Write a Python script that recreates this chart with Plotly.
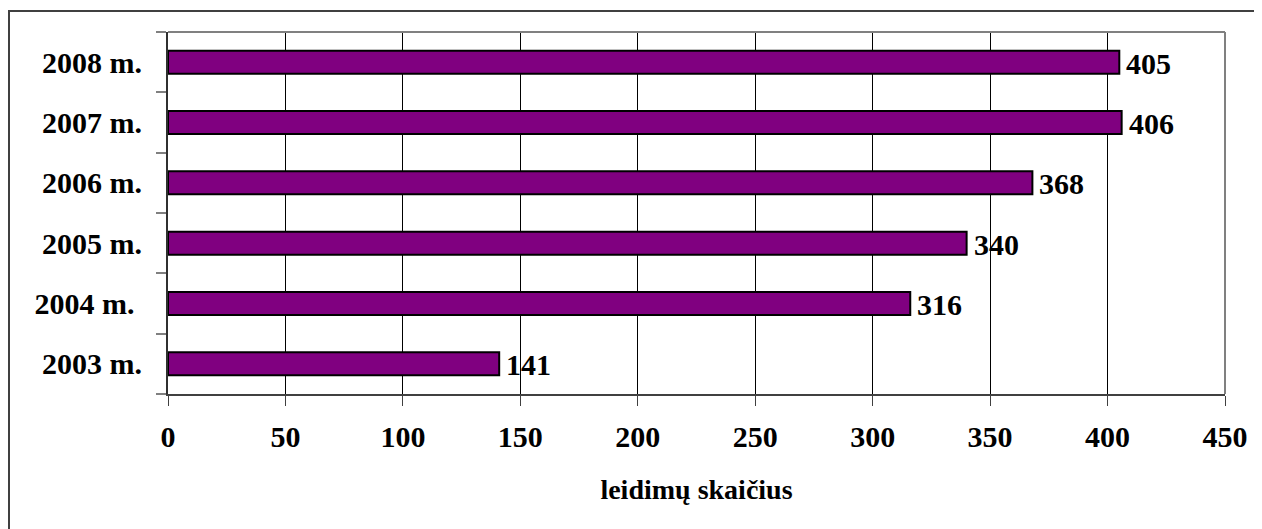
import plotly.graph_objects as go

categories = ["2003 m.", "2004 m.\u00a0", "2005 m.", "2006 m.", "2007 m.", "2008 m."]
values = [141, 316, 340, 368, 406, 405]
x_ticks = [0, 50, 100, 150, 200, 250, 300, 350, 400, 450]
x_title = "leidimų skaičius"

# page body has an 8px margin; the figure is sized to fit the window
OFF = 8
W, H = 1262 - OFF, 529 - OFF
L, R, T, B = 168 - OFF, 1225 - OFF, 32 - OFF, 394 - OFF
pw, ph = R - L, B - T

def px_x(x):
    return (x - OFF - L) / pw

def px_y(y):
    return (B - (y - OFF)) / ph

font_family = "Liberation Serif, Times New Roman, serif"
label_font = dict(family=font_family, size=30, color="#000000", weight="bold")

fig = go.Figure()
fig.add_trace(go.Bar(
    x=values, y=categories, orientation="h",
    marker=dict(color="#800080", line=dict(color="#000000", width=2)),
    width=0.38,
    cliponaxis=False,
    hoverinfo="skip",
))

annotations = [
    dict(x=v, y=c, xref="x", yref="y", text=str(v), showarrow=False,
         xanchor="left", yanchor="middle", xshift=5, yshift=-1, font=label_font)
    for v, c in zip(values, categories)
]

fig.update_layout(
    width=W, height=H,
    margin=dict(l=L, r=W - R, t=T, b=H - B, autoexpand=False),
    paper_bgcolor="white", plot_bgcolor="white",
    showlegend=False,
    font=dict(family=font_family, color="#000000"),
    annotations=annotations,
    xaxis=dict(
        range=[0, 450], tickvals=x_ticks, ticktext=[str(t) for t in x_ticks],
        automargin=False,
        showgrid=True, gridcolor="#000000", gridwidth=1,
        showline=True, linecolor="#404040", linewidth=2,
        ticks="outside", ticklen=10, tickcolor="#404040", tickwidth=1,
        tickfont=label_font,
        ticklabelstandoff=5,
        zeroline=False,
        title=dict(text=x_title, font=dict(family=font_family, size=28, color="#000000", weight="bold"), standoff=27),
    ),
    yaxis=dict(
        categoryorder="array", categoryarray=categories,
        automargin=False,
        showgrid=False, showline=True, linecolor="#303030", linewidth=2,
        ticks="outside", tickson="boundaries", ticklen=10, tickcolor="#808080", tickwidth=2,
        tickfont=label_font,
        ticklabelstandoff=18,
        zeroline=False,
    ),
    shapes=[
        dict(type="line", xref="paper", yref="paper", x0=0, x1=1, y0=1, y1=1,
             line=dict(color="#808080", width=2)),
        dict(type="line", xref="paper", yref="paper", x0=1, x1=1, y0=0, y1=1,
             line=dict(color="#808080", width=2)),
        dict(type="rect", xref="paper", yref="paper",
             x0=px_x(9), x1=px_x(1275), y0=px_y(545), y1=px_y(11),
             line=dict(color="#404040", width=2), fillcolor="rgba(0,0,0,0)", layer="above"),
    ],
)

fig.write_html("out.html")
